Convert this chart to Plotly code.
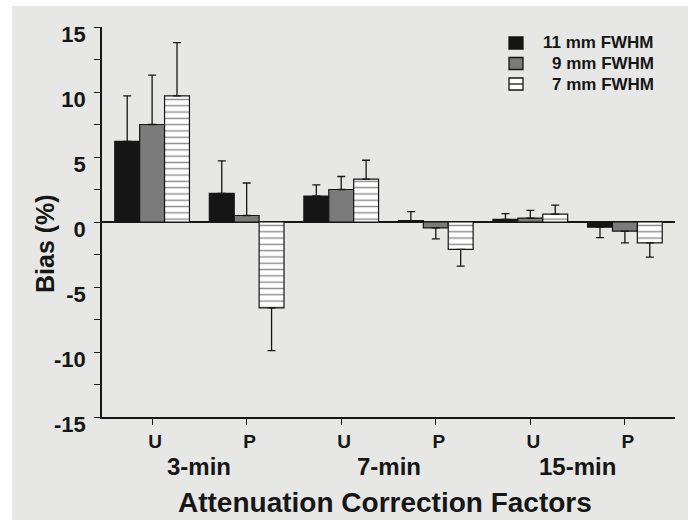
import plotly.graph_objects as go

# Correction-factor conditions (U / P for each transmission scan length)
positions = [0, 1, 2, 3, 4, 5]
tick_labels = ["U", "P", "U", "P", "U", "P"]
scan_groups = ["3-min", "7-min", "15-min"]
group_centers = [0.5, 2.5, 4.5]

series_names = ["11 mm FWHM", "9 mm FWHM", "7 mm FWHM"]
bias_11mm = [6.2, 2.2, 2.0, 0.1, 0.2, -0.4]
sd_11mm = [3.5, 2.5, 0.85, 0.7, 0.45, 0.8]
bias_9mm = [7.5, 0.5, 2.5, -0.45, 0.3, -0.7]
sd_9mm = [3.8, 2.5, 1.0, 0.85, 0.6, 0.9]
bias_7mm = [9.7, -6.6, 3.3, -2.1, 0.6, -1.6]
sd_7mm = [4.1, 3.3, 1.45, 1.3, 0.7, 1.1]

y_ticks = [-15, -10, -5, 0, 5, 10, 15]
y_tick_text = ["-15", "-10", "-5", "0", "5", "10", "15"]

INK = "#161616"
BG = "#e7e7e5"
FONT = "Liberation Sans"

W, H = 697, 520
L, R, T, B = 102, 22, 27, 103
PW, PH = W - L - R, H - T - B


def px_x(px):
    return (px - L) / PW


def px_y(py):
    return (H - B - py) / PH


def one_sided(vals, errs):
    plus = [e if v >= 0 else 0 for v, e in zip(vals, errs)]
    minus = [e if v < 0 else 0 for v, e in zip(vals, errs)]
    return plus, minus


def bar(name, vals, errs, color, pattern=None):
    plus, minus = one_sided(vals, errs)
    marker = dict(color=color, line=dict(color=INK, width=1.2))
    if pattern:
        marker["pattern"] = pattern
    return go.Bar(
        x=positions, y=vals, name=name, marker=marker,
        error_y=dict(type="data", symmetric=False, array=plus, arrayminus=minus,
                     color=INK, thickness=1.3, width=4),
        showlegend=False,
    )


fig = go.Figure()
fig.add_trace(bar(series_names[0], bias_11mm, sd_11mm, "#151515"))
fig.add_trace(bar(series_names[1], bias_9mm, sd_9mm, "#7b7b7b"))
fig.add_trace(bar(series_names[2], bias_7mm, sd_7mm, "white",
                  pattern=dict(shape="-", fgcolor=INK, bgcolor="white",
                               size=6.3, solidity=0.22)))

shapes = []
# scanned-page border: white strips around the grey sheet
for x0, x1, y0, y1 in [(0, 12, 0, H), (688, W, 0, H), (0, W, 0, 6)]:
    shapes.append(dict(type="rect", xref="paper", yref="paper",
                       x0=px_x(x0), x1=px_x(x1), y0=px_y(y1), y1=px_y(y0),
                       fillcolor="white", line=dict(width=0), layer="below"))

# legend block (swatches + right-aligned labels)
annotations = []
row_y = [43, 63.5, 84]
swatch_fill = ["#151515", "#7b7b7b", "white"]
for i, name in enumerate(series_names):
    cy = row_y[i]
    shapes.append(dict(type="rect", xref="paper", yref="paper",
                       x0=px_x(509), x1=px_x(523), y0=px_y(cy + 6), y1=px_y(cy - 6),
                       fillcolor=swatch_fill[i], line=dict(color=INK, width=1.3)))
    if i == 2:
        shapes.append(dict(type="line", xref="paper", yref="paper",
                           x0=px_x(509), x1=px_x(523), y0=px_y(cy), y1=px_y(cy),
                           line=dict(color=INK, width=1.3)))
    annotations.append(dict(text=name, xref="paper", yref="paper",
                            x=px_x(656), y=px_y(cy), xanchor="right", yanchor="middle",
                            showarrow=False,
                            font=dict(family=FONT, size=17, color=INK, weight="bold")))

# group labels under the U/P ticks
for label, xc in zip(scan_groups, group_centers):
    annotations.append(dict(text=label, x=xc, xref="x", yref="paper", y=px_y(466),
                            xanchor="center", yanchor="middle", showarrow=False,
                            font=dict(family=FONT, size=24, color=INK, weight="bold")))

annotations.append(dict(text="Attenuation Correction Factors", xref="paper", yref="paper",
                        x=px_x(385), y=px_y(502), xanchor="center", yanchor="middle",
                        showarrow=False,
                        font=dict(family=FONT, size=28, color=INK, weight="bold")))
annotations.append(dict(text="Bias (%)", xref="paper", yref="paper",
                        x=px_x(45), y=px_y(244), xanchor="center", yanchor="middle",
                        textangle=-90, showarrow=False,
                        font=dict(family=FONT, size=25, color=INK, weight="bold")))

fig.update_layout(
    width=W, height=H,
    margin=dict(l=L, r=R, t=T, b=B, autoexpand=False),
    paper_bgcolor=BG, plot_bgcolor=BG,
    barmode="group", bargap=0.21, bargroupgap=0,
    font=dict(family=FONT, color=INK, weight="bold"),
    shapes=shapes, annotations=annotations,
    xaxis=dict(range=[-0.53, 5.53], tickmode="array", tickvals=positions,
               ticktext=tick_labels, ticks="outside", ticklen=6, tickwidth=1.3,
               tickcolor=INK, showline=True, linecolor=INK, linewidth=1.6,
               showgrid=False, zeroline=False, ticklabelshift=3,
               tickfont=dict(family=FONT, size=19, color=INK, weight="bold")),
    yaxis=dict(range=[-15, 15], tickmode="array", tickvals=y_ticks,
               ticktext=y_tick_text, ticks="outside", ticklen=6, tickwidth=1.3,
               tickcolor=INK,
               minor=dict(dtick=2.5, tick0=0, ticks="outside", ticklen=6,
                          tickwidth=1.3, tickcolor=INK, showgrid=False),
               showline=True, linecolor=INK, linewidth=1.6, showgrid=False,
               zeroline=True, zerolinecolor=INK, zerolinewidth=1.6,
               ticklabelshift=7, ticklabelstandoff=4,
               tickfont=dict(family=FONT, size=22, color=INK, weight="bold")),
)

fig.write_html("out.html")
